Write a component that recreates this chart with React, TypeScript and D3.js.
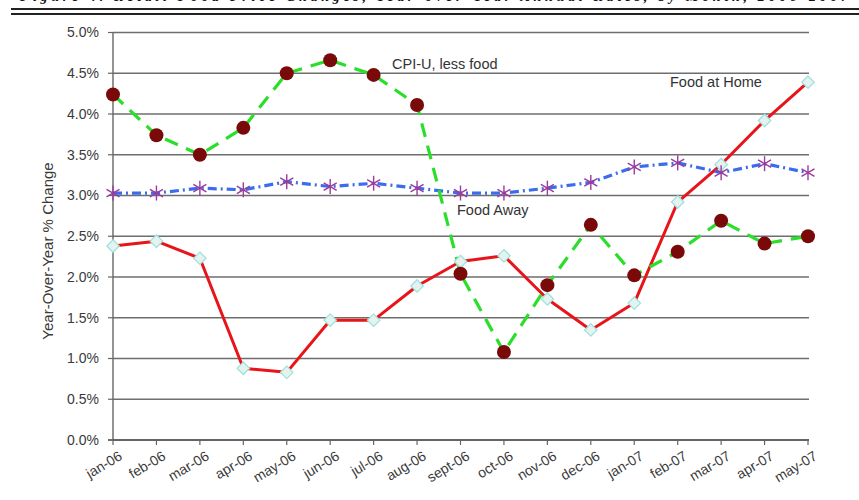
import React from "react";
import * as d3 from "d3";

const months = [
  "jan-06", "feb-06", "mar-06", "apr-06", "may-06", "jun-06", "jul-06", "aug-06",
  "sept-06", "oct-06", "nov-06", "dec-06", "jan-07", "feb-07", "mar-07", "apr-07", "may-07",
];

// Year-over-year % change by month
const cpiLessFood = [4.24, 3.74, 3.5, 3.83, 4.5, 4.66, 4.48, 4.11, 2.04, 1.08, 1.9, 2.64, 2.02, 2.31, 2.69, 2.41, 2.5];
const foodAway = [3.03, 3.03, 3.09, 3.07, 3.17, 3.11, 3.15, 3.09, 3.03, 3.03, 3.09, 3.16, 3.35, 3.4, 3.28, 3.39, 3.28];
const foodAtHome = [2.38, 2.44, 2.23, 0.88, 0.83, 1.47, 1.47, 1.89, 2.19, 2.26, 1.73, 1.35, 1.68, 2.92, 3.38, 3.92, 4.39];

const yTicks = [0, 0.5, 1, 1.5, 2, 2.5, 3, 3.5, 4, 4.5, 5];

const W = 859;
const H = 500;
const FONT = "'Liberation Sans', Arial, sans-serif";

export default function App() {
  const x = d3.scalePoint<string>().domain(months).range([113, 808]);
  const y = d3.scaleLinear().domain([0, 5]).range([440, 32.5]);

  const line = (vals: number[]) =>
    d3.line<number>()
      .x((_, i) => x(months[i]) as number)
      .y((v) => y(v))(vals) as string;

  const asterisk = (cx: number, cy: number, key: string) => {
    const r = 7.5;
    const segs = [0, 60, 120].map((a) => {
      const rad = (a * Math.PI) / 180 + Math.PI / 2;
      return [cx + r * Math.cos(rad), cy + r * Math.sin(rad), cx - r * Math.cos(rad), cy - r * Math.sin(rad)];
    });
    return (
      <g key={key}>
        {segs.map((s, i) => (
          <line key={i} x1={s[0]} y1={s[1]} x2={s[2]} y2={s[3]} stroke="#9b3b9b" strokeWidth={1.4} />
        ))}
      </g>
    );
  };

  const diamond = d3.symbol().type(d3.symbolDiamond2).size(100)();

  return (
    <svg
      width={W}
      height={H}
      style={{ position: "absolute", left: 0, top: 0, background: "#fff" }}
    >
      {/* heading and double rule */}
      <text
        x={20}
        y={0.5}
        fontFamily="'Liberation Serif', 'Times New Roman', serif"
        fontWeight="bold"
        fontStyle="italic"
        fontSize={14}
        fill="#111"
        textLength={828}
        lengthAdjust="spacing"
      >
        Figure 4. Retail Food Price Changes, Year-over-Year Annual Rates, by Month, 2006-2007
      </text>
      <line x1={11} x2={859} y1={9} y2={9} stroke="#222" strokeWidth={2} />
      <line x1={11} x2={859} y1={14} y2={14} stroke="#222" strokeWidth={2} />

      {/* gridlines */}
      {yTicks.map((t) => (
        <line key={t} x1={113} x2={809} y1={y(t)} y2={y(t)} stroke="#6e6e6e" strokeWidth={1.5} />
      ))}
      {/* axes */}
      <line x1={113} x2={113} y1={y(5)} y2={y(0)} stroke="#666" strokeWidth={1.4} />
      <line x1={108} x2={809} y1={y(0)} y2={y(0)} stroke="#555" strokeWidth={1.6} />
      {yTicks.map((t) => (
        <line key={"yt" + t} x1={108} x2={113} y1={y(t)} y2={y(t)} stroke="#666" strokeWidth={1.2} />
      ))}
      {months.map((m) => (
        <line key={"xt" + m} x1={x(m)} x2={x(m)} y1={y(0)} y2={y(0) + 5} stroke="#666" strokeWidth={1.2} />
      ))}

      {/* y tick labels */}
      {yTicks.map((t) => (
        <text
          key={"yl" + t}
          x={99}
          y={y(t)}
          dy="0.35em"
          textAnchor="end"
          fontFamily={FONT}
          fontSize={14}
          fill="#3a3a3a"
        >
          {t.toFixed(1)}%
        </text>
      ))}

      {/* x tick labels */}
      {months.map((m) => (
        <text
          key={"xl" + m}
          transform={`translate(${(x(m) as number) + 5},${450}) rotate(-31)`}
          textAnchor="end"
          dy="0.72em"
          fontFamily={FONT}
          fontSize={14}
          fill="#3a3a3a"
        >
          {m}
        </text>
      ))}

      {/* y axis title */}
      <text
        transform={`translate(53,${251}) rotate(-90)`}
        textAnchor="middle"
        fontFamily={FONT}
        fontSize={15}
        fill="#3a3a3a"
      >
        Year-Over-Year % Change
      </text>

      {/* series lines */}
      <path d={line(foodAtHome)} fill="none" stroke="#e8141a" strokeWidth={3} strokeLinejoin="round" />
      <path
        d={line(foodAway)}
        fill="none"
        stroke="#3b6cf0"
        strokeWidth={3.2}
        strokeDasharray="9,4,2,4"
      />
      <path
        d={line(cpiLessFood)}
        fill="none"
        stroke="#2adf2a"
        strokeWidth={3.2}
        strokeDasharray="14,9"
      />

      {/* markers */}
      {foodAtHome.map((v, i) => (
        <path
          key={"d" + i}
          d={diamond as string}
          transform={`translate(${x(months[i])},${y(v)})`}
          fill="#e4f3f0"
          stroke="#9fe0dc"
          strokeWidth={1.2}
        />
      ))}
      {foodAway.map((v, i) => asterisk(x(months[i]) as number, y(v), "a" + i))}
      {cpiLessFood.map((v, i) => (
        <circle key={"c" + i} cx={x(months[i])} cy={y(v)} r={7} fill="#7a0a0a" />
      ))}

      {/* series labels */}
      <text x={392} y={69} fontFamily={FONT} fontSize={14.5} fill="#333">
        CPI-U,  less food
      </text>
      <text x={670} y={87} fontFamily={FONT} fontSize={14.5} fill="#333">
        Food at Home
      </text>
      <text x={457} y={215} fontFamily={FONT} fontSize={14.5} fill="#333">
        Food Away
      </text>
    </svg>
  );
}
